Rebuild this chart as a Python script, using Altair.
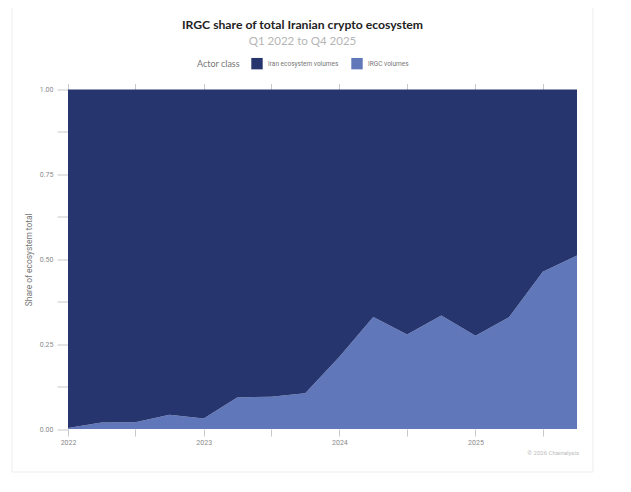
"""IRGC share of the total Iranian crypto ecosystem, as a stacked area chart."""

import altair as alt
import pandas as pd

quarters = [
    '2022-01-01', '2022-04-01', '2022-07-01', '2022-10-01',
    '2023-01-01', '2023-04-01', '2023-07-01', '2023-10-01',
    '2024-01-01', '2024-04-01', '2024-07-01', '2024-10-01',
    '2025-01-01', '2025-04-01', '2025-07-01', '2025-10-01',
]
irgc_share = [
    0.003, 0.019, 0.020, 0.042,
    0.031, 0.093, 0.095, 0.105,
    0.213, 0.330, 0.278, 0.334,
    0.275, 0.329, 0.463, 0.511,
]
iran_share = [
    0.997, 0.981, 0.980, 0.958,
    0.969, 0.907, 0.905, 0.895,
    0.787, 0.670, 0.722, 0.666,
    0.725, 0.671, 0.537, 0.489,
]
x_ticks = [
    '2022-01-01', '2022-07-01', '2023-01-01', '2023-07-01',
    '2024-01-01', '2024-07-01', '2025-01-01', '2025-07-01',
]
y_ticks = [0, 0.125, 0.25, 0.375, 0.5, 0.625, 0.75, 0.875, 1]
actors = ['Iran ecosystem volumes', 'IRGC volumes']
actor_colors = ['#27356F', '#6077B9']

FONT = 'Roboto'
TITLE_FONT = 'Lato'
GREY = '#8A8A8A'
TICK_GREY = '#C9C9C9'

data = pd.concat([
    pd.DataFrame({'quarter': quarters, 'share': irgc_share, 'actor': actors[1], 'stack_rank': 1}),
    pd.DataFrame({'quarter': quarters, 'share': iran_share, 'actor': actors[0], 'stack_rank': 2}),
])

x_scale = alt.Scale(type='utc', domain=[quarters[0], quarters[-1]])

frame = alt.Chart(pd.DataFrame({'a': [0]})).mark_rect(
    fill=None, stroke='#EDEDED', strokeWidth=1
).encode(
    x=alt.value(-56), x2=alt.value(525), y=alt.value(-87), y2=alt.value(382.5)
)

areas = alt.Chart(data).mark_area(line=False).encode(
    x=alt.X(
        'quarter:T', scale=x_scale, title=None,
        axis=alt.Axis(
            values=x_ticks, grid=False, domain=False,
            labelExpr="utcmonth(datum.value) == 0 ? utcyear(datum.value) + '' : ''",
            tickSize=7, tickColor=TICK_GREY, labelPadding=2, labelFont=FONT,
            labelFontSize=7, labelColor=GREY, labelAngle=0, labelFlush=False,
        ),
    ),
    y=alt.Y(
        'share:Q', stack='zero', scale=alt.Scale(domain=[0, 1], nice=False),
        title='Share of ecosystem total',
        axis=alt.Axis(
            values=y_ticks, grid=False, domain=False,
            labelExpr="datum.value * 4 % 1 == 0 ? format(datum.value, '.2f') : ''",
            tickSize=11, tickColor=TICK_GREY, labelPadding=4, labelFont=FONT,
            labelFontSize=7, labelColor=GREY, titleFont=FONT, titleFontSize=8.4,
            titleFontWeight='normal', titleColor='#777777', titleX=-35,
        ),
    ),
    color=alt.Color(
        'actor:N',
        scale=alt.Scale(domain=actors, range=actor_colors),
        legend=alt.Legend(
            title='Actor class', orient='none', legendX=129, legendY=-32,
            direction='horizontal', titleOrient='left', symbolType='square',
            symbolSize=130, symbolStrokeWidth=0, columnPadding=12, labelOffset=5,
            labelFont=FONT, labelFontSize=6.5, labelColor='#777777',
            titleFont=TITLE_FONT, titleFontSize=9, titleFontWeight='normal',
            titleColor='#777777', titlePadding=11,
        ),
    ),
    order=alt.Order('stack_rank:Q', sort='ascending'),
)

# ticks above the plot, the labelled axis is at the bottom
top_ticks = alt.Chart(data).mark_line(opacity=0).encode(
    x=alt.X(
        'quarter:T', scale=x_scale, title=None,
        axis=alt.Axis(
            orient='top', values=x_ticks, grid=False, domain=False, labels=False,
            tickSize=6, tickColor=TICK_GREY,
        ),
    ),
)

credit = alt.Chart(pd.DataFrame({'text': ['© 2026 Chainalysis']})).mark_text(
    align='right', baseline='middle', font=FONT, fontSize=6, color='#BBBBBB'
).encode(x=alt.value(511), y=alt.value(363.5), text='text:N')

chart = alt.layer(frame, areas, top_ticks, credit).resolve_axis(x='independent').properties(
    width=509,
    height=339.5,
    autosize=alt.AutoSizeParams(type='none'),
    padding={'left': 60, 'top': 81.5, 'right': 18, 'bottom': 45},
    title=alt.TitleParams(
        'IRGC share of total Iranian crypto ecosystem',
        subtitle='Q1 2022 to Q4 2025',
        anchor='middle', frame='group', dx=-20, offset=-45,
        font=TITLE_FONT, fontSize=12.2, fontWeight='bold', color='#222222',
        subtitleFont=TITLE_FONT, subtitleFontSize=11.5, subtitleColor='#B5B5B5',
        subtitlePadding=4,
    ),
).configure_view(stroke=None)

chart.save("out.html", embed_options={"renderer": "svg", "actions": False})
